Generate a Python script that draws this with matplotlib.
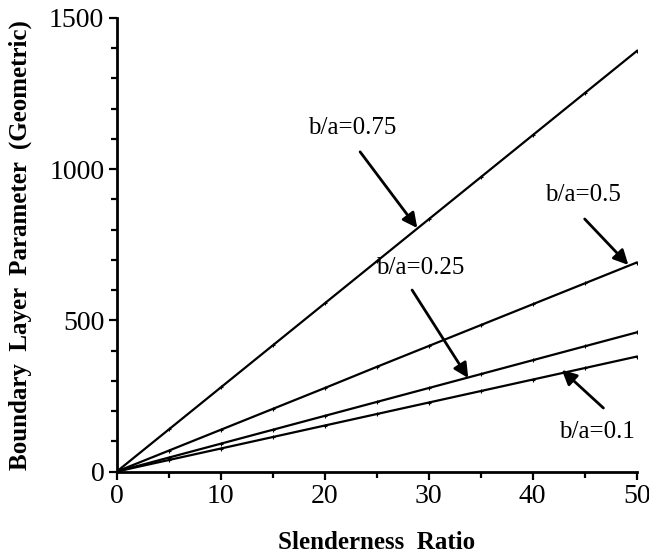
import numpy as np
import matplotlib
matplotlib.use("Agg")
import matplotlib.pyplot as plt
from matplotlib.ticker import MultipleLocator

plt.rcParams['font.family'] = ['Liberation Serif', 'DejaVu Serif']

# slenderness ratio sample points
slenderness = [0, 5, 10, 15, 20, 25, 30, 35, 40, 45, 50]

# boundary layer parameter for each b/a
bl_075 = [0, 139, 278, 417, 556, 695, 834, 973, 1112, 1251, 1390]
bl_050 = [0, 69, 138, 207, 276, 346, 415, 484, 553, 622, 691]
bl_025 = [0, 46, 92, 138, 184, 230, 276, 322, 368, 414, 460]
bl_010 = [0, 38, 76, 114, 152, 190, 228, 266, 304, 342, 380]

labels = ['b/a=0.75', 'b/a=0.5', 'b/a=0.25', 'b/a=0.1']

fig = plt.figure(figsize=(6.49, 5.58), dpi=100)
ax = fig.add_axes([0.18, 0.155, 0.801, 0.813])

for ys in (bl_075, bl_050, bl_025, bl_010):
    ax.plot(slenderness, ys, color='black', lw=1.6,
            marker='+', markersize=3, markeredgewidth=0.8)

ax.set_xlim(0, 50)
ax.set_ylim(0, 1500)
ax.xaxis.set_major_locator(MultipleLocator(10))
ax.xaxis.set_minor_locator(MultipleLocator(5))
ax.yaxis.set_major_locator(MultipleLocator(500))
ax.yaxis.set_minor_locator(MultipleLocator(100))

for side in ('top', 'right'):
    ax.spines[side].set_visible(False)
for side in ('left', 'bottom'):
    ax.spines[side].set_linewidth(2)

ax.tick_params(which='major', direction='out', length=6, width=1.6,
               labelsize=20, pad=3)
ax.tick_params(which='minor', direction='out', length=4, width=1.6)

ax.set_xlabel('Slenderness  Ratio', fontsize=18, fontweight='bold', labelpad=16)
ax.set_ylabel('Boundary  Layer  Parameter  (Geometric)', fontsize=18,
              fontweight='bold', labelpad=12)

arrow = dict(arrowstyle='-|>', color='black', lw=2, mutation_scale=22,
             shrinkA=0, shrinkB=0)
# (text position, arrow tail, arrow head)
notes = [
    ((22.6, 1136), (23.4, 1057), (28.9, 805)),
    ((44.8, 915), (45.0, 835), (49.2, 683)),
    ((29.2, 673), (28.4, 600), (33.8, 309)),
    ((46.2, 131), (46.8, 210), (42.8, 336)),
]
for lab, (tpos, tail, head) in zip(labels, notes):
    ax.text(tpos[0], tpos[1], lab, fontsize=18, ha='center', va='center')
    ax.annotate('', xy=head, xytext=tail, arrowprops=arrow)

fig.savefig('out.png', dpi=100)
